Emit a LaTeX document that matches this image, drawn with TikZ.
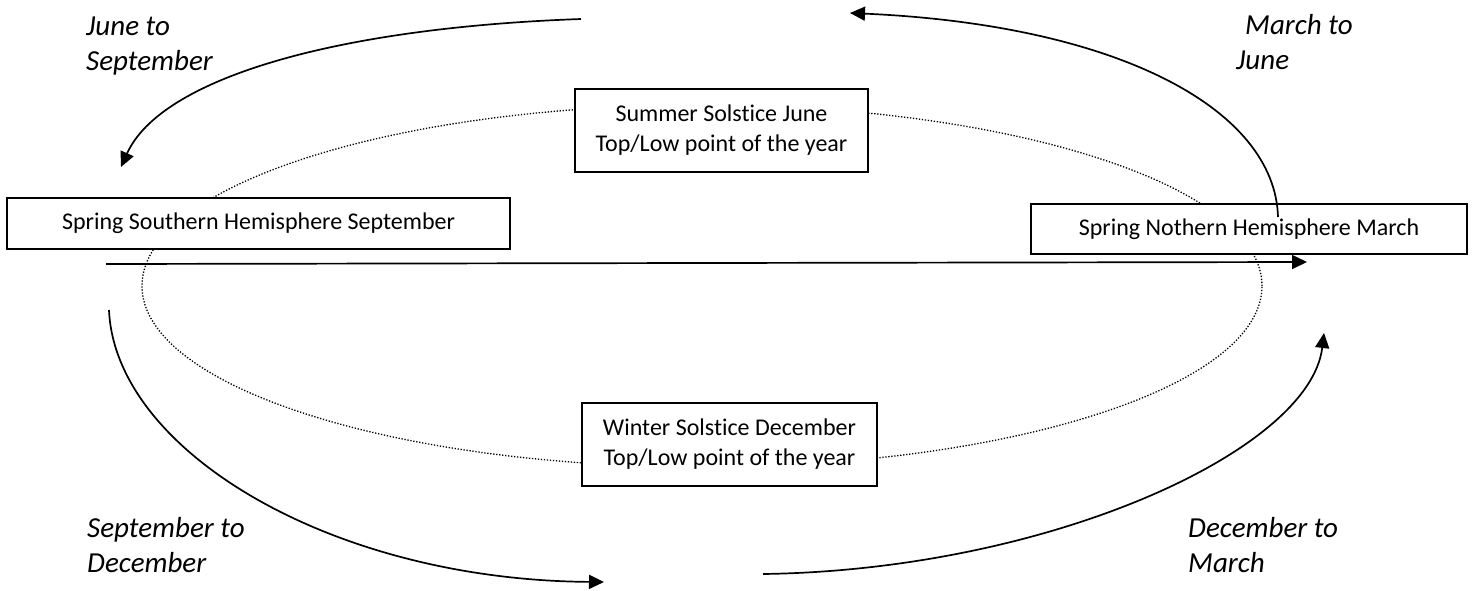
\documentclass[tikz,border=0pt]{standalone}
\usepackage{fontspec}
\setmainfont{Carlito}[Ligatures=NoCommon]
\usetikzlibrary{arrows.meta}
\begin{document}
\begin{tikzpicture}[x=1pt,y=-1pt,
  box/.style={draw=black, line width=1.3pt, fill=white, inner sep=0pt, align=center,
              font=\fontsize{24}{30}\selectfont},
  lbl/.style={anchor=west, align=left, inner sep=0pt, font=\fontsize{29}{35}\selectfont\itshape},
  arr/.style={line width=1.7pt, -{Triangle[length=15pt,width=14pt]}},
  orbit/.style={line width=1.3pt, dash pattern=on 1.3pt off 1.7pt}]
\useasboundingbox (0,0) rectangle (1475,591);
% orbit
\draw[orbit] (702,286) ellipse [x radius=560pt, y radius=181pt];
% boxes
\node[box, minimum width=293pt, minimum height=83pt] (summer) at (721.5,130.5)
  {Summer Solstice June\\Top/Low point of the year};
\node[box, minimum width=295pt, minimum height=83pt] (winter) at (729.5,444.5)
  {Winter Solstice December\\Top/Low point of the year};
\node[box, minimum width=503pt, minimum height=51pt] (south) at (258.5,223.5)
  {Spring Southern Hemisphere September};
\node[box, minimum width=436pt, minimum height=50pt] (north) at (1249,229)
  {Spring Nothern Hemisphere March};
% labels
\node[lbl] (ljs) at (86,46) {June to\\September};
\node[lbl] (lmj) at (1236,42) {\hspace*{9pt}March to\\June};
\node[lbl] (lsd) at (87,545) {September to\\December};
\node[lbl] (ldm) at (1188,545) {December to\\March};
% arrow end points
\coordinate (jsA) at (581,19);
\coordinate (jsB) at (121,167);
\coordinate (mjA) at (1278,217);
\coordinate (mjB) at (850,13);
\coordinate (hA) at (106,264);
\coordinate (hB) at (1307,262);
\coordinate (sdA) at (109,310);
\coordinate (sdB) at (604,582);
\coordinate (dmA) at (763,574);
\coordinate (dmB) at (1324,333);
% arrows
\draw[arr] (jsA) .. controls (330,28) and (160,80) .. (jsB);
\draw[arr] (mjA) .. controls (1275,110) and (1120,25) .. (mjB);
\draw[arr] (hA) -- (hB);
\draw[arr] (sdA) .. controls (115,450) and (330,580) .. (sdB);
\draw[arr] (dmA) .. controls (1050,570) and (1310,450) .. (dmB);
\end{tikzpicture}
\end{document}
